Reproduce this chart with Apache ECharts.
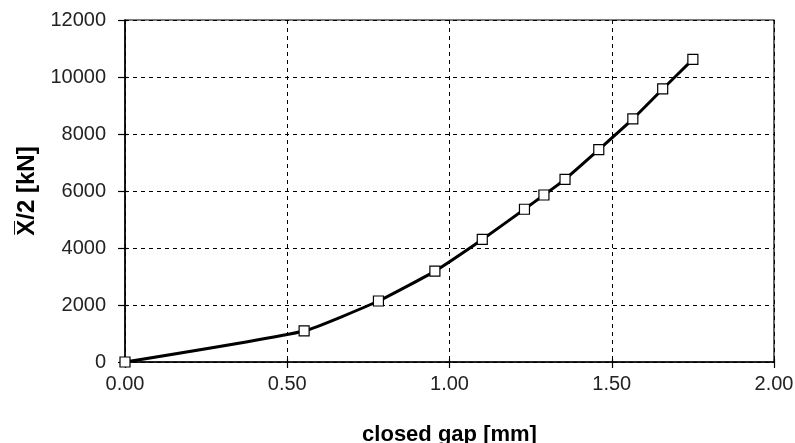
<!DOCTYPE html>
<html>
<head>
<meta charset="utf-8">
<script src="https://cdn.jsdelivr.net/npm/echarts@6/dist/echarts.min.js"></script>
<style>
  html, body { margin: 0; padding: 0; background: #fff; }
  #chart { width: 795px; height: 443px; }
</style>
</head>
<body>
<div id="chart"></div>
<script>
// Closed gap [mm] vs. half load X/2 [kN]
const gapMm = [0.00, 0.552, 0.781, 0.955, 1.101, 1.231, 1.291, 1.356, 1.460, 1.565, 1.657, 1.750];
const halfLoadKN = [0, 1090, 2140, 3190, 4300, 5360, 5860, 6410, 7450, 8530, 9580, 10620];
const xTicks = [0, 0.5, 1.0, 1.5, 2.0];
const yTicks = [0, 2000, 4000, 6000, 8000, 10000, 12000];

const points = gapMm.map((g, i) => [g, halfLoadKN[i]]);
const font = 'Liberation Sans, Arial, sans-serif';

const chart = echarts.init(document.getElementById('chart'), null, { renderer: 'canvas' });

const baseX = {
  type: 'value', min: xTicks[0], max: xTicks[xTicks.length - 1], interval: xTicks[1] - xTicks[0],
  position: 'bottom'
};
const baseY = {
  type: 'value', min: yTicks[0], max: yTicks[yTicks.length - 1], interval: yTicks[1] - yTicks[0],
  position: 'left'
};

chart.setOption({
  backgroundColor: '#ffffff',
  animation: false,
  grid: {
    left: 125, top: 20, right: 21, bottom: 81,
    containLabel: false,
    outerBoundsMode: 'none',
    show: true, borderColor: '#000', borderWidth: 1.2, backgroundColor: 'transparent'
  },
  xAxis: [
    Object.assign({}, baseX, {
      name: 'closed gap [mm]',
      nameLocation: 'middle',
      nameGap: 62,
      nameTextStyle: { fontFamily: font, fontWeight: 'bold', fontSize: 22, color: '#000' },
      axisLine: { show: true, lineStyle: { color: '#000', width: 1.5 } },
      axisTick: { show: true, length: 6, lineStyle: { color: '#000', width: 1.2 } },
      axisLabel: {
        fontFamily: font, fontSize: 20, color: '#222', margin: 12,
        formatter: v => v.toFixed(2)
      },
      splitLine: { show: true, lineStyle: { color: '#000', type: [4, 4], width: 1 } }
    }),
    Object.assign({}, baseX, {
      axisLine: { show: false },
      axisTick: { show: true, inside: true, length: 3, lineStyle: { color: '#000', width: 1.2 } },
      axisLabel: { show: false },
      splitLine: { show: false }
    })
  ],
  yAxis: [
    Object.assign({}, baseY, {
      name: 'X\u0305/2 [kN]',
      nameLocation: 'middle',
      nameGap: 86,
      nameRotate: 90,
      nameTextStyle: { fontFamily: font, fontWeight: 'bold', fontSize: 24, color: '#000' },
      axisLine: { show: true, lineStyle: { color: '#000', width: 1.5 } },
      axisTick: { show: true, length: 7, lineStyle: { color: '#000', width: 1.2 } },
      axisLabel: {
        fontFamily: font, fontSize: 20, color: '#222', margin: 19,
        formatter: v => String(v)
      },
      splitLine: { show: true, lineStyle: { color: '#000', type: [4, 4], width: 1 } }
    }),
    Object.assign({}, baseY, {
      axisLine: { show: false },
      axisTick: { show: true, inside: true, length: 3, lineStyle: { color: '#000', width: 1.2 } },
      axisLabel: { show: false },
      splitLine: { show: false }
    })
  ],
  series: [{
    type: 'line',
    data: points,
    smooth: 0.15,
    symbol: 'rect',
    symbolSize: 10,
    showAllSymbol: true,
    lineStyle: { color: '#000', width: 3 },
    itemStyle: { color: '#fff', borderColor: '#000', borderWidth: 1.2 },
    z: 5
  }]
});
</script>
</body>
</html>
